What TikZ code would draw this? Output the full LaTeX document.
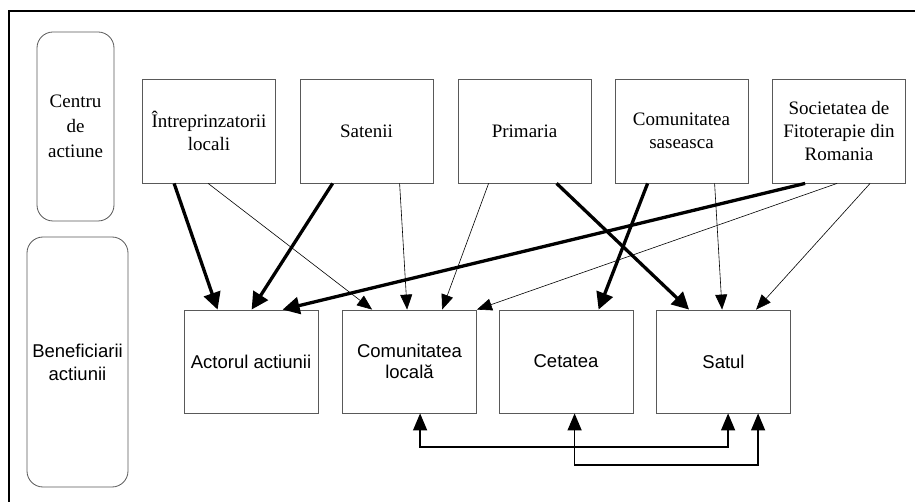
\documentclass[tikz,border=0pt]{standalone}
\usepackage{fontspec}
\setmainfont{Liberation Serif}
\newfontfamily\arialfont{Liberation Sans}
\usetikzlibrary{arrows.meta}
\begin{document}
\begin{tikzpicture}[x=1pt,y=-1pt,
  boxstyle/.style={draw=black!65,line width=0.8pt,minimum width=133pt,minimum height=104pt,inner sep=0pt,align=center},
  topbox/.style={boxstyle,font=\fontsize{19}{23}\selectfont},
  botbox/.style={boxstyle,minimum width=134pt,minimum height=103pt,font=\arialfont\fontsize{18.5}{21}\selectfont},
  sidebox/.style={draw=black!65,line width=0.8pt,rounded corners=16pt,inner sep=0pt,align=center},
  thickarr/.style={line width=3.3pt,-{Triangle[length=17pt,width=17pt]}},
  thinarr/.style={line width=0.6pt,-{Triangle[length=15pt,width=12pt]}},
  linkarr/.style={line width=1.3pt,{Triangle[length=17pt,width=14pt]}-{Triangle[length=17pt,width=14pt]}}
]
\useasboundingbox (0,0) rectangle (915,502);
\fill[white] (0,0) rectangle (915,502);
% frame
\draw[line width=2pt] (9,520) -- (9,11) -- (930,11);

% side boxes
\node[sidebox,minimum width=77pt,minimum height=189pt,font=\fontsize{19}{25}\selectfont] (centru) at (75.5,126.5) {Centru\\de\\actiune};
\node[sidebox,minimum width=101pt,minimum height=250pt,font=\arialfont\fontsize{18.5}{23}\selectfont] (benef) at (77.5,362) {Beneficiarii\\actiunii};

% top boxes
\node[topbox] (intre) at (209,131) {Întreprinzatorii\\locali};
\node[topbox] (sat) at (366.5,131) {Satenii};
\node[topbox] (prim) at (524.5,131) {Primaria};
\node[topbox] (coms) at (681.5,131) {Comunitatea\\saseasca};
\node[topbox] (soc) at (839,131) {Societatea de\\Fitoterapie din\\Romania};

% bottom boxes
\node[botbox] (actor) at (251,361.5) {Actorul actiunii};
\node[botbox] (comloc) at (409.5,361.5) {Comunitatea\\locală};
\node[botbox] (cet) at (566,361.5) {Cetatea};
\node[botbox] (satul) at (723.5,361.5) {Satul};

% thin arrows
\draw[thinarr] ([xshift=66pt]intre.south west) -- ([xshift=30pt]comloc.north west);
\draw[thinarr] ([xshift=100pt]sat.south west) -- ([xshift=65pt]comloc.north west);
\draw[thinarr] ([xshift=31pt]prim.south west) -- ([xshift=100pt]comloc.north west);
\draw[thinarr] ([xshift=100pt]coms.south west) -- ([xshift=66pt]satul.north west);
\draw[thinarr] ([xshift=65pt]soc.south west) -- (comloc.north east);
\draw[thinarr] ([xshift=98pt]soc.south west) -- ([xshift=100pt]satul.north west);

% thick arrows
\draw[thickarr] ([xshift=32pt]intre.south west) -- ([xshift=34pt]actor.north west);
\draw[thickarr] ([xshift=33pt]sat.south west) -- ([xshift=68pt]actor.north west);
\draw[thickarr] ([xshift=99pt]prim.south west) -- ([xshift=33pt]satul.north west);
\draw[thickarr] ([xshift=33pt]coms.south west) -- ([xshift=100pt]cet.north west);
\draw[thickarr] ([xshift=33pt]soc.south west) -- ([xshift=99pt]actor.north west);

% bottom links
\coordinate (c1) at ([xshift=78pt]comloc.south west);
\coordinate (s1) at ([xshift=72pt]satul.south west);
\coordinate (c2) at ([xshift=76pt]cet.south west);
\coordinate (s2) at ([xshift=102pt]satul.south west);
\draw[linkarr] (c1) -- (c1 |- 0,447) -- (s1 |- 0,447) -- (s1);
\draw[linkarr] (c2) -- (c2 |- 0,465) -- (s2 |- 0,465) -- (s2);
\end{tikzpicture}
\end{document}
